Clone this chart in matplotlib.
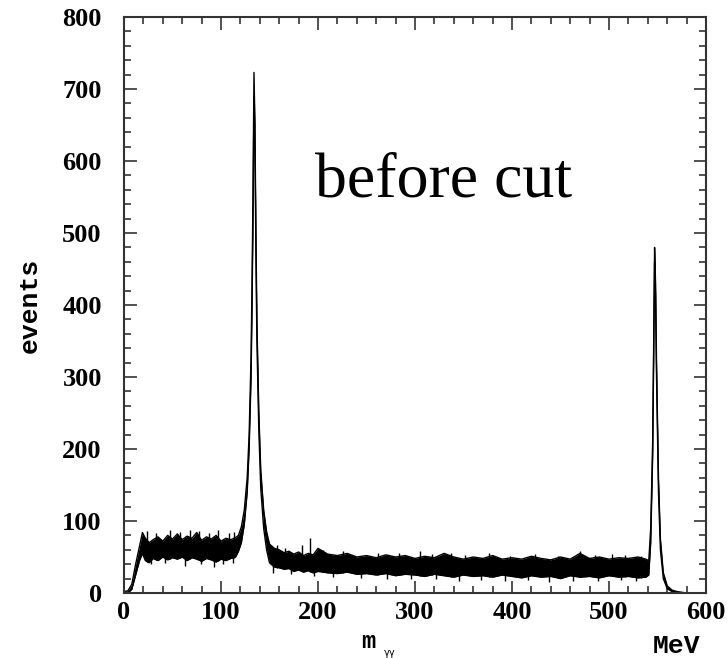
import numpy as np
import matplotlib.pyplot as plt
from matplotlib.ticker import MultipleLocator

mass = [0, 4, 8, 12, 16, 19, 22, 26, 30, 35, 40, 45, 50, 55, 60, 65, 70, 75, 80, 85,
        90, 95, 100, 105, 110, 115, 118, 121, 124, 127, 129, 131, 132, 133, 134, 135,
        136, 137, 139, 141, 144, 147, 150, 155, 160, 165, 170, 175, 180, 185, 190, 195,
        200, 210, 220, 230, 240, 250, 260, 270, 280, 290, 300, 310, 320, 330, 340, 350,
        360, 370, 380, 390, 400, 410, 420, 430, 440, 450, 460, 470, 480, 490, 500, 510,
        520, 530, 538, 541, 543, 545, 546, 547, 548, 549, 551, 553, 556, 560, 565, 570,
        575, 580, 600]
upper = [2, 3, 12, 40, 65, 84, 76, 70, 74, 78, 72, 80, 75, 82, 74, 79, 76, 84, 73, 78,
         75, 80, 72, 76, 74, 77, 80, 92, 115, 160, 220, 330, 430, 560, 723, 650,
         500, 380, 250, 170, 115, 85, 68, 62, 60, 56, 58, 54, 57, 52, 55, 53,
         62, 54, 52, 55, 50, 52, 49, 53, 50, 52, 48, 51, 49, 55, 50, 47,
         50, 48, 52, 47, 49, 47, 51, 48, 46, 50, 47, 55, 48, 50, 47, 49,
         48, 50, 47, 45, 90, 210, 340, 480, 430, 320, 160, 75, 28, 10, 4, 2,
         1, 0, 0]
lower = [0, 0, 5, 25, 45, 55, 45, 42, 48, 45, 50, 46, 49, 47, 50, 45, 49, 47, 44, 48,
         46, 43, 47, 45, 48, 50, 58, 70, 95, 140, 200, 300, 400, 520, 690, 620,
         470, 350, 225, 145, 90, 60, 42, 36, 35, 33, 34, 30, 32, 29, 31, 28,
         30, 28, 27, 29, 26, 27, 25, 27, 24, 26, 25, 23, 26, 24, 22, 25,
         23, 24, 22, 25, 23, 21, 24, 22, 23, 20, 24, 22, 23, 21, 24, 22,
         23, 21, 22, 25, 70, 190, 320, 460, 410, 300, 140, 60, 20, 6, 2, 1,
         0, 0, 0]

# single-bin fluctuations that stick out of the band
spike_x = [24, 33, 47, 58, 68, 77, 88, 97, 108, 113, 158, 166, 183, 192, 205, 226,
           262, 283, 305, 318, 337, 352, 376, 398, 424, 447, 470, 486, 503, 517, 533]
spike_hi = [86, 83, 88, 85, 87, 86, 84, 88, 83, 85, 66, 63, 66, 76, 60, 58,
            56, 55, 58, 54, 56, 53, 55, 52, 54, 52, 58, 53, 54, 53, 52]
dip_x = [28, 42, 63, 79, 93, 102, 112, 154, 172, 196, 215, 244, 271, 296, 322,
         345, 368, 393, 417, 438, 463, 489, 512, 528]
dip_lo = [40, 42, 38, 40, 36, 40, 42, 28, 26, 24, 22, 21, 20, 19, 20,
          17, 18, 16, 18, 15, 17, 16, 18, 17]

fig = plt.figure(figsize=(7.28, 6.58), dpi=100)
ax = fig.add_axes([124/728, 1-593/658, (706-124)/728, (593-17)/658])

ax.fill_between(mass, lower, upper, color='black', lw=0)
ax.plot(mass, upper, color='black', lw=1.0)
ax.plot(mass, lower, color='black', lw=1.0)
ax.vlines(spike_x, np.interp(spike_x, mass, lower), spike_hi, color='black', lw=1.0)
ax.vlines(dip_x, dip_lo, np.interp(dip_x, mass, upper), color='black', lw=1.0)

ax.set_xlim(0, 600)
ax.set_ylim(0, 800)
ax.xaxis.set_major_locator(MultipleLocator(100))
ax.xaxis.set_minor_locator(MultipleLocator(20))
ax.yaxis.set_major_locator(MultipleLocator(100))
ax.yaxis.set_minor_locator(MultipleLocator(20))
ax.tick_params(which='both', direction='in', top=True, right=True, color='#333333', width=1.2)
ax.tick_params(which='major', length=9)
ax.tick_params(which='minor', length=5)
ax.tick_params(axis='x', which='major', pad=6)
ax.tick_params(axis='y', which='major', pad=16)
for s in ax.spines.values():
    s.set_linewidth(1.5)
    s.set_color('#333333')
for lab in ax.get_xticklabels() + ax.get_yticklabels():
    lab.set_fontfamily('Liberation Serif')
    lab.set_fontweight('bold')
    lab.set_fontsize(19)

fig.text(30/728, 1-305/658, 'events', rotation=90, ha='center', va='center',
         family='Liberation Mono', fontsize=19, fontweight='bold')
ax.text(329, 572, 'before cut', ha='center', va='center',
        family='Liberation Serif', fontsize=46)
fig.text(677/728, 1-646/658, 'MeV', ha='center', va='center',
         family='Liberation Mono', fontsize=19, fontweight='bold')
fig.text(368/728, 1-642/658, 'm', ha='center', va='center',
         family='Liberation Mono', fontsize=17, fontweight='bold')
fig.text(390/728, 1-648/658, 'γγ', ha='center', va='top',
         family='DejaVu Sans Mono', fontsize=7)

fig.savefig('out.png', dpi=100)
